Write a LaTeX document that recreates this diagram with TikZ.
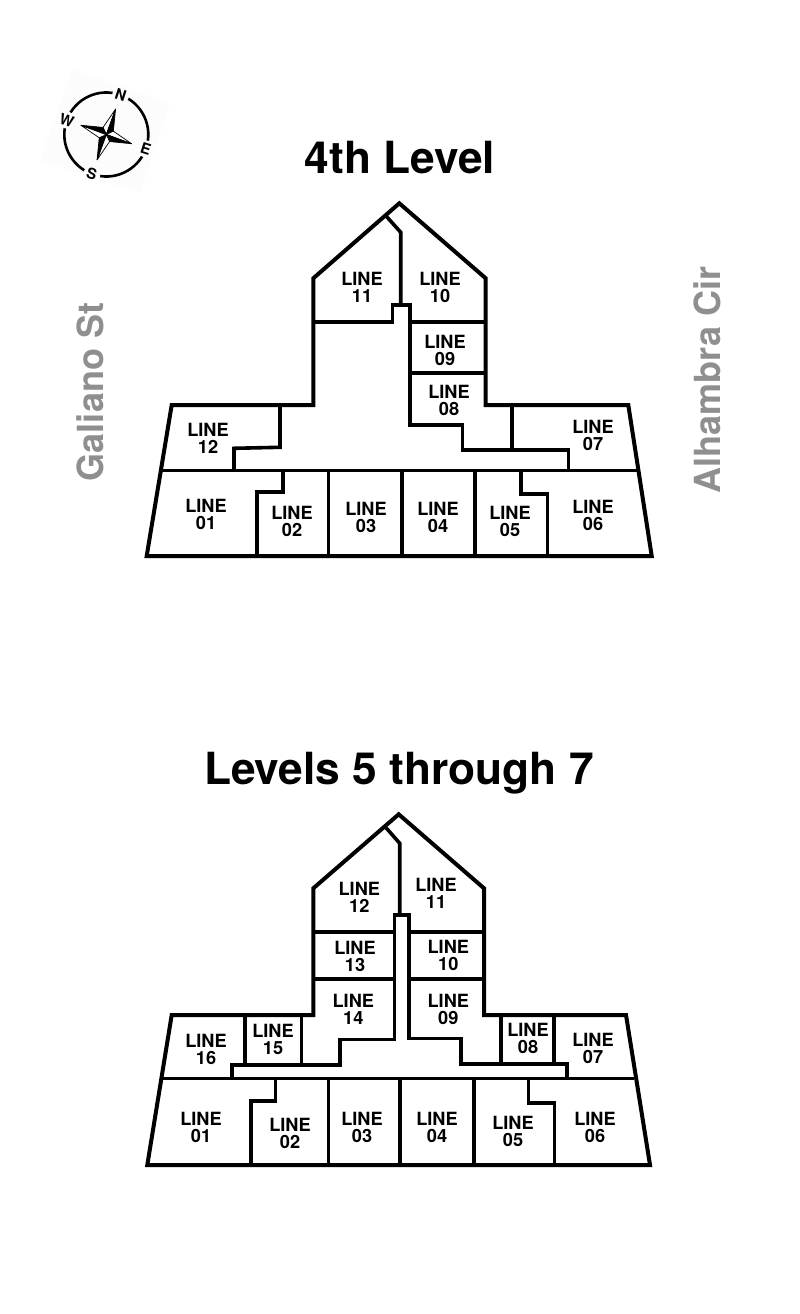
\documentclass[tikz,border=0pt]{standalone}
\usepackage{fontspec}
\setmainfont{TeX Gyre Heros}
\definecolor{street}{HTML}{8F8F8F}
\tikzset{
  x=1pt,y=-1pt,
  wall/.style={line width=3.6pt,line join=miter,line cap=butt,black},
  outer/.style={line width=4pt,line join=miter,black},
  unit/.style={font=\fontsize{18.2}{17}\selectfont\bfseries,align=center,inner sep=0pt,black},
  heading/.style={font=\fontsize{44.3}{44}\selectfont\bfseries,inner sep=0pt,black,anchor=base},
  streetname/.style={font=\fontsize{36}{36}\selectfont\bfseries,inner sep=0pt,text=street,rotate=90},
  compassletter/.style={font=\fontsize{15}{15}\selectfont\bfseries,inner sep=0pt,black,rotate=-18},
}
\begin{document}
\begin{tikzpicture}
\useasboundingbox (0,0) rectangle (800,1314);
\fill[white] (0,0) rectangle (800,1314);
% compass
\fill[black!1] (73,70) -- (170,103) -- (140,193) -- (40,160) -- cycle;
\begin{scope}[shift={(106.3,134.5)},rotate=-20]
  \draw[line width=2.6pt,line cap=round] (0,0) circle[radius=42];
  \foreach \a/\l in {-90/N,0/E,90/S,180/W}{
    \fill[black!1] (\a:42) circle[radius=8.5];
    \node[compassletter] at (\a:42) {\l};
    \begin{scope}[rotate=-\a]
      \filldraw[fill=white,draw=black,line width=.7pt,line join=round] (0,0) -- (27,0) -- (5.5,-5.5) -- cycle;
      \filldraw[fill=black,draw=black,line width=.7pt,line join=round] (0,0) -- (27,0) -- (5.5,5.5) -- cycle;
    \end{scope}
  }
\end{scope}
% titles
\node[heading] (t1) at (400,173.5) {4th Level};
\node[heading] (t2) at (399,784.5) {Levels 5 through 7};
\node[streetname] (s1) at (90,392) {Galiano St};
\node[streetname] (s2) at (707,380) {Alhambra Cir};
% ---- 4th level
\draw[outer] (399.3,203.3) -- (485.7,278.3) -- (485.7,405) -- (628.3,405) -- (651.7,556) -- (146.7,556) -- (171.7,405) -- (313.3,405) -- (313.3,278.3) -- cycle;
\draw[wall] (161.7,470.3) -- (637.3,470.3);
\draw[wall] (386.7,216.7) -- (400.7,232.3) -- (400.7,305);
\draw[wall] (313.3,321.7) -- (392.3,321.7) -- (392.3,305) -- (410,305) -- (410,425) -- (462.3,425) -- (462.3,450) -- (568.3,450) -- (568.3,470.3);
\draw[wall] (410,321.7) -- (485.7,321.7);
\draw[wall] (410,372.7) -- (485.7,372.7);
\draw[wall] (511.7,405) -- (511.7,450);
\draw[wall] (280,405) -- (280,447.3) -- (234,448.3) -- (234,470.3);
\draw[wall] (282.7,470.3) -- (282.7,491.7) -- (256.7,491.7) -- (256.7,556);
\draw[wall] (328.3,470.3) -- (328.3,556);
\draw[wall] (401.7,470.3) -- (401.7,556);
\draw[wall] (475,470.3) -- (475,556);
\draw[wall] (520.7,470.3) -- (520.7,494) -- (547.3,494) -- (547.3,556);
\foreach \n/\x/\y in {11/362/287,10/440/287,09/445/350,08/449/400,12/208/438,07/593/435.7,01/206/514,02/292/521.7,03/366/517,04/438/517,05/510/521,06/593/515}
  \node[unit] (a\n) at (\x,\y) {LINE\\\n};
% ---- levels 5-7
\draw[outer] (398.7,814.3) -- (484,888.3) -- (484,1015) -- (626,1015) -- (650,1165) -- (147.3,1165) -- (171.7,1015) -- (313.3,1015) -- (313.3,888.3) -- cycle;
\draw[wall] (161.7,1078.3) -- (634.3,1078.3);
\draw[wall] (386,827.7) -- (399.7,843.3) -- (399.7,915);
\draw[wall] (231.7,1078.3) -- (231.7,1065) -- (340,1065) -- (340,1039.3) -- (394.3,1039.3) -- (394.3,915) -- (409,915) -- (409,1038.3) -- (460.7,1038.3) -- (460.7,1063.7) -- (566.7,1063.7) -- (566.7,1078.3);
\draw[wall] (313.3,931.7) -- (394.3,931.7);
\draw[wall] (313.3,979) -- (394.3,979);
\draw[wall] (409,931.7) -- (484,931.7);
\draw[wall] (409,979) -- (484,979);
\draw[wall] (245,1015) -- (245,1065);
\draw[wall] (301.3,1015) -- (301.3,1065);
\draw[wall] (501,1015) -- (501,1063.7);
\draw[wall] (554,1015) -- (554,1063.7);
\draw[wall] (275.3,1078.3) -- (275.3,1101) -- (251,1101) -- (251,1165);
\draw[wall] (328.3,1078.3) -- (328.3,1165);
\draw[wall] (400,1078.3) -- (400,1165);
\draw[wall] (474,1078.3) -- (474,1165);
\draw[wall] (528.3,1078.3) -- (528.3,1102.7) -- (554.3,1102.7) -- (554.3,1165);
\foreach \n/\x/\y in {12/359.3/897,11/436/893,13/355/956.7,10/448.3/955,14/353.3/1009,09/448.3/1009,16/206/1049,15/273/1039.7,08/528/1038.7,07/593/1048,01/201/1127,02/290/1133,03/362/1127,04/437/1127,05/513/1131,06/595/1127}
  \node[unit] (b\n) at (\x,\y) {LINE\\\n};
\end{tikzpicture}
\end{document}
